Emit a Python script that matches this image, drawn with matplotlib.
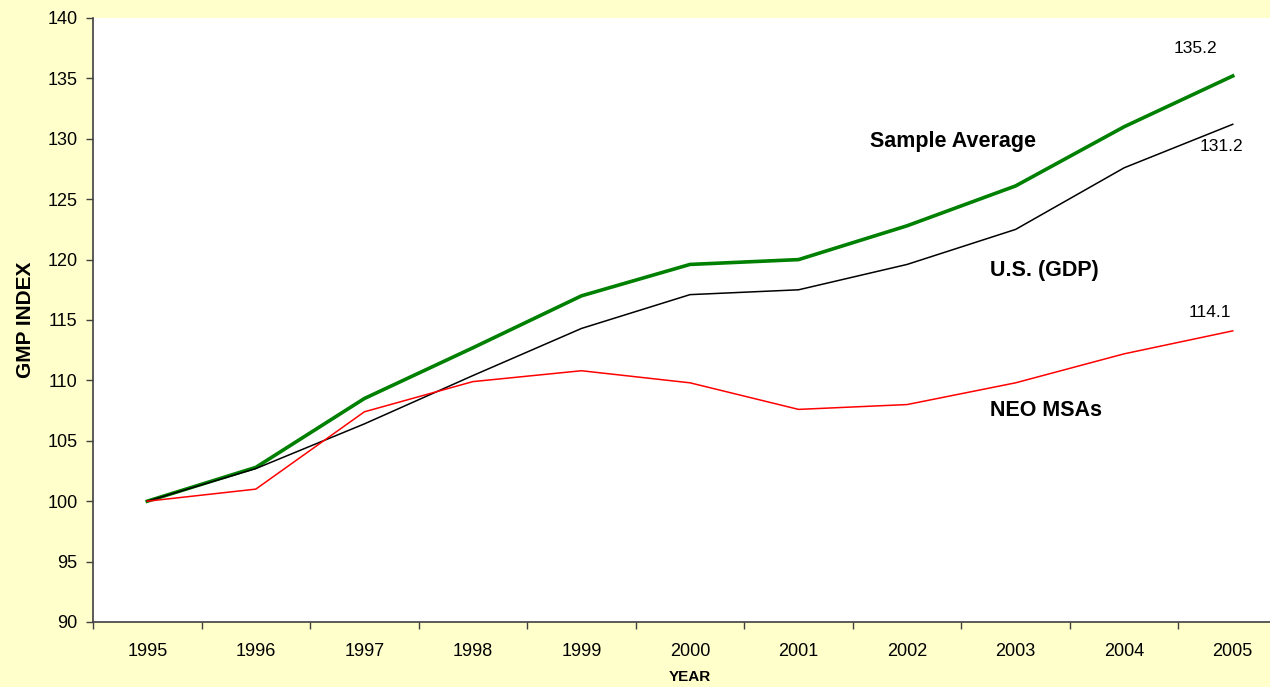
import numpy as np
import matplotlib
matplotlib.use("Agg")
from matplotlib import pyplot as plt

plt.rcParams['font.family'] = ['Liberation Sans', 'DejaVu Sans']

years = ['1995', '1996', '1997', '1998', '1999', '2000', '2001', '2002', '2003', '2004', '2005']
sample_avg = [100.0, 102.8, 108.5, 112.7, 117.0, 119.6, 120.0, 122.8, 126.1, 131.0, 135.2]
us_gdp = [100.0, 102.7, 106.4, 110.4, 114.3, 117.1, 117.5, 119.6, 122.5, 127.6, 131.2]
neo_msas = [100.0, 101.0, 107.4, 109.9, 110.8, 109.8, 107.6, 108.0, 109.8, 112.2, 114.1]

W, H = 1270, 687
fig = plt.figure(figsize=(W / 100, H / 100), dpi=100, facecolor='#FFFFCC')
# plot area runs a little past the right edge of the figure
ax = fig.add_axes([93 / W, (H - 622) / H, 1194 / W, 604 / H])
ax.set_facecolor('white')

x = np.arange(len(years))
ax.plot(x, sample_avg, color='#008000', lw=2.6, solid_joinstyle='round')
ax.plot(x, us_gdp, color='black', lw=1.1)
ax.plot(x, neo_msas, color='#FF0000', lw=1.1)

ax.set_xlim(-0.5, len(years) - 0.5)
ax.set_ylim(90, 140)
ax.set_yticks(np.arange(90, 141, 5))
ax.set_xticks(x)
ax.set_xticklabels(years)
ax.set_xticks(np.arange(-0.5, len(years), 1), minor=True)
ax.tick_params(axis='x', which='major', length=0, pad=15, labelsize=13)
ax.tick_params(axis='x', which='minor', length=5, width=1, color='#404040')
ax.tick_params(axis='y', length=5, width=1, color='#404040', pad=6, labelsize=13)

for side in ['top', 'right']:
    ax.spines[side].set_visible(False)
for side in ['left', 'bottom']:
    ax.spines[side].set_color('#404040')
    ax.spines[side].set_linewidth(1.2)

ax.set_ylabel('GMP INDEX', fontsize=15, fontweight='bold', labelpad=9)
ax.set_xlabel('YEAR', fontsize=11, fontweight='bold', labelpad=7)

# series names
ax.text(6.66, 129.8, 'Sample Average', fontsize=15.5, fontweight='bold', ha='left', va='center')
ax.text(7.76, 119.1, 'U.S. (GDP)', fontsize=15.5, fontweight='bold', ha='left', va='center')
ax.text(7.76, 107.5, 'NEO MSAs', fontsize=15.5, fontweight='bold', ha='left', va='center')

# end values
ax.text(9.66, 137.5, f'{sample_avg[-1]:.1f}', fontsize=12.5, ha='center', va='center')
ax.text(9.9, 129.4, f'{us_gdp[-1]:.1f}', fontsize=12.5, ha='center', va='center')
ax.text(9.79, 115.6, f'{neo_msas[-1]:.1f}', fontsize=12.5, ha='center', va='center')

fig.savefig('out.png', dpi=100, facecolor=fig.get_facecolor())
